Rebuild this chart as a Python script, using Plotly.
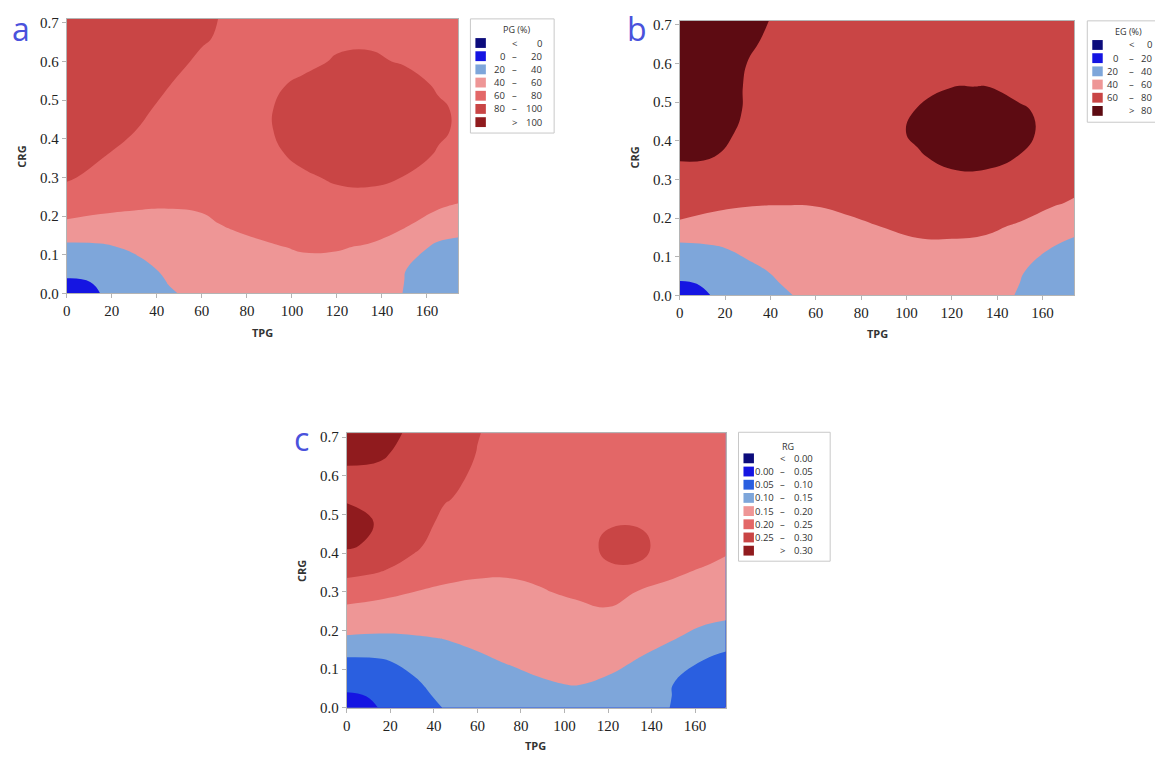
import plotly.graph_objects as go

# ---------------- data ----------------
TPG = [0, 15, 30, 45, 60, 75, 90, 105, 120, 135, 150, 165, 180]
CRG = [0.00, 0.03, 0.06, 0.12, 0.18, 0.24, 0.30, 0.36, 0.42, 0.48, 0.54, 0.60, 0.66, 0.72]

# PG (%) surface, rows = CRG, columns = TPG
PG = [
    [12.0, 20.1, 24.0, 38.0, 45.0, 48.0, 50.0, 52.0, 50.0, 48.0, 39.5, 30.0, 27.0],
    [18.2, 20.8, 28.5, 40.6, 47.2, 50.2, 52.2, 54.2, 52.8, 50.8, 39.9, 31.7, 29.0],
    [23.9, 28.6, 33.0, 43.3, 49.5, 52.4, 54.5, 56.4, 55.5, 53.6, 40.3, 33.5, 31.0],
    [35.7, 37.3, 42.9, 49.9, 53.9, 56.8, 59.0, 61.1, 61.0, 58.7, 50.5, 36.0, 35.5],
    [57.3, 55.2, 55.3, 56.6, 58.4, 61.5, 64.0, 66.8, 68.0, 66.3, 62.2, 52.7, 45.0],
    [71.0, 66.6, 63.4, 61.8, 61.8, 65.0, 68.0, 72.5, 73.0, 73.5, 70.9, 64.5, 58.8],
    [82.0, 75.1, 68.9, 65.5, 64.5, 68.0, 73.0, 76.5, 83.2, 84.4, 79.4, 71.4, 65.0],
    [86.0, 81.5, 74.4, 69.2, 67.3, 71.0, 75.0, 85.9, 93.2, 94.3, 89.3, 78.2, 70.5],
    [89.0, 85.0, 80.2, 73.0, 70.1, 73.5, 78.5, 90.8, 98.0, 99.2, 94.2, 83.1, 74.0],
    [91.0, 88.0, 84.0, 76.7, 72.9, 75.0, 78.5, 90.5, 97.8, 98.9, 94.0, 82.8, 74.0],
    [92.0, 90.0, 87.0, 80.4, 75.6, 76.0, 76.0, 84.0, 92.4, 93.6, 88.6, 77.4, 72.0],
    [93.0, 91.5, 89.0, 83.0, 78.4, 77.0, 76.0, 74.7, 82.0, 83.1, 78.1, 74.0, 70.0],
    [94.0, 92.5, 90.0, 85.0, 81.0, 77.5, 75.0, 73.0, 76.0, 76.5, 75.0, 72.0, 69.0],
    [95.0, 93.5, 91.0, 86.0, 82.0, 78.0, 74.0, 72.0, 74.0, 74.0, 73.0, 71.0, 68.0],
]

# EG (%) surface
EG = [
    [15.0, 20.5, 28.5, 38.0, 44.0, 46.0, 47.0, 49.0, 48.0, 45.0, 39.0, 30.0, 27.0],
    [19.0, 21.0, 32.0, 40.3, 46.0, 48.0, 49.0, 51.0, 50.0, 47.8, 39.9, 32.2, 29.0],
    [23.0, 29.0, 35.7, 42.7, 48.2, 50.0, 51.0, 53.0, 52.0, 50.6, 40.8, 34.5, 31.0],
    [33.0, 37.5, 43.7, 48.7, 52.3, 54.0, 55.3, 57.7, 57.0, 56.3, 50.1, 38.6, 35.0],
    [57.5, 52.7, 53.0, 54.7, 56.5, 58.1, 60.4, 62.5, 63.8, 62.4, 58.7, 49.9, 42.0],
    [67.1, 64.7, 61.5, 60.7, 60.7, 62.5, 65.5, 67.5, 70.4, 69.6, 65.9, 61.8, 56.0],
    [75.0, 72.5, 67.0, 65.0, 64.0, 66.5, 70.0, 72.5, 77.0, 76.9, 72.8, 66.0, 63.0],
    [81.4, 80.3, 73.5, 69.0, 67.0, 70.0, 74.0, 78.8, 83.8, 84.1, 79.7, 71.0, 67.0],
    [84.6, 83.0, 78.0, 72.0, 69.5, 72.5, 76.0, 82.1, 87.2, 87.5, 83.2, 76.0, 70.0],
    [86.8, 85.0, 79.0, 74.0, 71.0, 73.5, 77.5, 80.3, 85.8, 86.1, 81.7, 76.0, 70.0],
    [88.0, 86.0, 79.0, 74.5, 72.0, 73.5, 76.0, 77.0, 79.8, 80.1, 75.8, 73.0, 69.0],
    [88.6, 86.5, 79.8, 75.0, 72.5, 73.0, 74.0, 75.0, 77.0, 77.0, 74.0, 72.0, 68.0],
    [89.0, 87.0, 82.0, 76.5, 73.0, 72.5, 72.5, 73.5, 75.0, 75.0, 73.0, 71.0, 67.5],
    [89.5, 87.0, 84.0, 78.0, 73.5, 72.0, 71.5, 72.5, 74.0, 74.0, 72.0, 70.0, 67.0],
]

# RG surface
RG = [
    [0.030, 0.051, 0.077, 0.102, 0.110, 0.115, 0.120, 0.125, 0.118, 0.112, 0.0985, 0.070, 0.060],
    [0.0448, 0.0536, 0.084, 0.110, 0.118, 0.125, 0.133, 0.138, 0.130, 0.120, 0.099, 0.076, 0.066],
    [0.0596, 0.0717, 0.091, 0.118, 0.1265, 0.135, 0.146, 0.1513, 0.1426, 0.1275, 0.0995, 0.0827, 0.072],
    [0.0899, 0.0935, 0.112, 0.134, 0.143, 0.153, 0.1605, 0.1647, 0.161, 0.1465, 0.1274, 0.0954, 0.086],
    [0.1455, 0.143, 0.146, 0.151, 0.159, 0.1666, 0.173, 0.178, 0.177, 0.1639, 0.1523, 0.1328, 0.112],
    [0.1815, 0.177, 0.174, 0.173, 0.175, 0.180, 0.186, 0.191, 0.192, 0.180, 0.1717, 0.162, 0.1575],
    [0.222, 0.212, 0.2005, 0.195, 0.191, 0.193, 0.1985, 0.2045, 0.2153, 0.1965, 0.191, 0.180, 0.170],
    [0.269, 0.257, 0.232, 0.2106, 0.207, 0.205, 0.207, 0.214, 0.245, 0.2435, 0.207, 0.198, 0.185],
    [0.306, 0.290, 0.262, 0.225, 0.219, 0.213, 0.214, 0.222, 0.2614, 0.2629, 0.220, 0.215, 0.203],
    [0.309, 0.298, 0.275, 0.239, 0.230, 0.220, 0.219, 0.225, 0.245, 0.245, 0.228, 0.224, 0.213],
    [0.298, 0.292, 0.280, 0.253, 0.238, 0.226, 0.223, 0.226, 0.238, 0.238, 0.232, 0.229, 0.219],
    [0.294, 0.292, 0.283, 0.262, 0.244, 0.231, 0.226, 0.227, 0.235, 0.236, 0.235, 0.232, 0.223],
    [0.308, 0.305, 0.290, 0.272, 0.249, 0.235, 0.229, 0.228, 0.233, 0.236, 0.236, 0.234, 0.226],
    [0.320, 0.315, 0.295, 0.280, 0.252, 0.238, 0.231, 0.229, 0.232, 0.236, 0.237, 0.235, 0.228],
]

# contour levels (start, end, step)
PG_levels = (0, 100, 20)
EG_levels = (0, 80, 20)
RG_levels = (0.0, 0.30, 0.05)

# band colours, lowest band first
PG_colors = ['#0c0c7c', '#1515e2', '#7ea6da', '#ee9696', '#e36767', '#c94545', '#901b1e']
EG_colors = ['#0c0c7c', '#1515e2', '#7ea6da', '#ee9696', '#c94545', '#5d0b12']
RG_colors = ['#0c0c7c', '#1515e2', '#2a5fe0', '#7ea6da', '#ee9696', '#e36767', '#c94545', '#901b1e']

# legend labels: left number, separator, right number
PG_lo = ['', '0', '20', '40', '60', '80', '']
PG_sep = ['<', '–', '–', '–', '–', '–', '>']
PG_hi = ['0', '20', '40', '60', '80', '100', '100']

EG_lo = ['', '0', '20', '40', '60', '']
EG_sep = ['<', '–', '–', '–', '–', '>']
EG_hi = ['0', '20', '40', '60', '80', '80']

RG_lo = ['', '0.00', '0.05', '0.10', '0.15', '0.20', '0.25', '']
RG_sep = ['<', '–', '–', '–', '–', '–', '–', '>']
RG_hi = ['0.00', '0.05', '0.10', '0.15', '0.20', '0.25', '0.30', '0.30']

# ---------------- figure ----------------
W, H = 1163, 760
OFF = 8  # page body margin in the browser


def px(x):
    return (x - OFF) / W


def py(y):
    return 1 - (y - OFF) / H


def stepped(colors):
    n = len(colors)
    scale = []
    for k, c in enumerate(colors):
        lo = max(0.0, (k - 0.5) / (n - 1))
        hi = min(1.0, (k + 0.5) / (n - 1))
        scale.append([lo, c])
        scale.append([hi, c])
    return scale


fig = go.Figure()

panels = [
    # z, levels, colors, axis suffix, plot box (x0, x1, ytop, ybottom) in px
    (PG, PG_levels, PG_colors, '', (63, 456, 15, 294)),
    (EG, EG_levels, EG_colors, '2', (678, 1074, 17, 296)),
    (RG, RG_levels, RG_colors, '3', (344, 724, 436, 715)),
]

axis_common = dict(
    showgrid=False, zeroline=False, showline=True, mirror=True,
    linecolor='#b4b4b4', linewidth=1, ticks='outside', ticklen=4,
    tickcolor='#b4b4b4', tickfont=dict(family='Liberation Serif', size=15, color='#222'),
)

for z, (s, e, st), cols, sfx, (x0, x1, yt, yb) in panels:
    fig.add_trace(go.Contour(
        x=TPG, y=CRG, z=z,
        contours=dict(start=s, end=e, size=st, coloring='fill', showlines=False),
        line=dict(width=0, smoothing=1.3),
        colorscale=stepped(cols), showscale=False, hoverinfo='skip',
        xaxis='x' + sfx, yaxis='y' + sfx,
    ))
    fig.update_layout(**{
        'xaxis' + sfx: dict(domain=[px(x0), px(x1)], range=[0, 174], dtick=20,
                            anchor='y' + sfx, **axis_common),
        'yaxis' + sfx: dict(domain=[py(yb), py(yt)], range=[0, 0.71], dtick=0.1,
                            tickformat='.1f', anchor='x' + sfx, **axis_common),
    })

annotations = []
shapes = []


def label(text, x, y, size, color='#333', xanchor='center', angle=0, family='Open Sans'):
    annotations.append(dict(text=text, x=px(x), y=py(y), xref='paper', yref='paper',
                            xanchor=xanchor, yanchor='middle', showarrow=False,
                            textangle=angle, font=dict(family=family, size=size, color=color)))


# axis titles
for (tx, ty, cx, cy) in [(259, 334, 18, 155), (876, 335, 633, 156), (533, 753, 298, 576)]:
    label('<b>TPG</b>', tx, ty, 11)
    label('<b>CRG</b>', cx, cy, 11, angle=-90)

# panel letters
for letter, lx, ly in [('a', 17, 25), ('b', 635, 25), ('c', 298, 441)]:
    label(letter, lx, ly, 32, color='#4a52dc')

# legends drawn as boxes + labels
legends = [
    # title, colors, lo, sep, hi, box(x0,x1,y0,y1), title y, first row y, swatch x0, lo right, sep center, hi right
    ('PG (%)', PG_colors, PG_lo, PG_sep, PG_hi, (468, 552, 15, 131), 26, 39.5, 473, 505, 512.5, 542),
    ('EG (%)', EG_colors, EG_lo, EG_sep, EG_hi, (1087, 1162, 17, 120), 28, 41.5, 1092, 1120, 1131, 1154),
    ('RG', RG_colors, RG_lo, RG_sep, RG_hi, (737, 829, 435, 566), 449, 461.5, 742, 775, 781, 814),
]
for title, cols, lo, sep, hi, (bx0, bx1, by0, by1), tyy, ry0, sx, lor, sepc, hir in legends:
    shapes.append(dict(type='rect', xref='paper', yref='paper', x0=px(bx0), x1=px(bx1),
                       y0=py(by1), y1=py(by0), line=dict(color='#c8c8c8', width=1),
                       fillcolor='white', layer='above'))
    label(title, (bx0 + bx1) / 2 + 4, tyy, 9)
    for k, c in enumerate(cols):
        yy = ry0 + 13.4 * k
        shapes.append(dict(type='rect', xref='paper', yref='paper', x0=px(sx), x1=px(sx + 10.5),
                           y0=py(yy + 5), y1=py(yy - 5), line=dict(width=0), fillcolor=c, layer='above'))
        if lo[k]:
            label(lo[k], lor, yy, 9.5, xanchor='right')
        label(sep[k], sepc, yy, 9.5)
        label(hi[k], hir, yy, 9.5, xanchor='right')

fig.update_layout(
    width=W, height=H, autosize=False,
    margin=dict(l=0, r=0, t=0, b=0),
    paper_bgcolor='white', plot_bgcolor='white',
    showlegend=False,
    annotations=annotations, shapes=shapes,
)

fig.write_html('out.html')
